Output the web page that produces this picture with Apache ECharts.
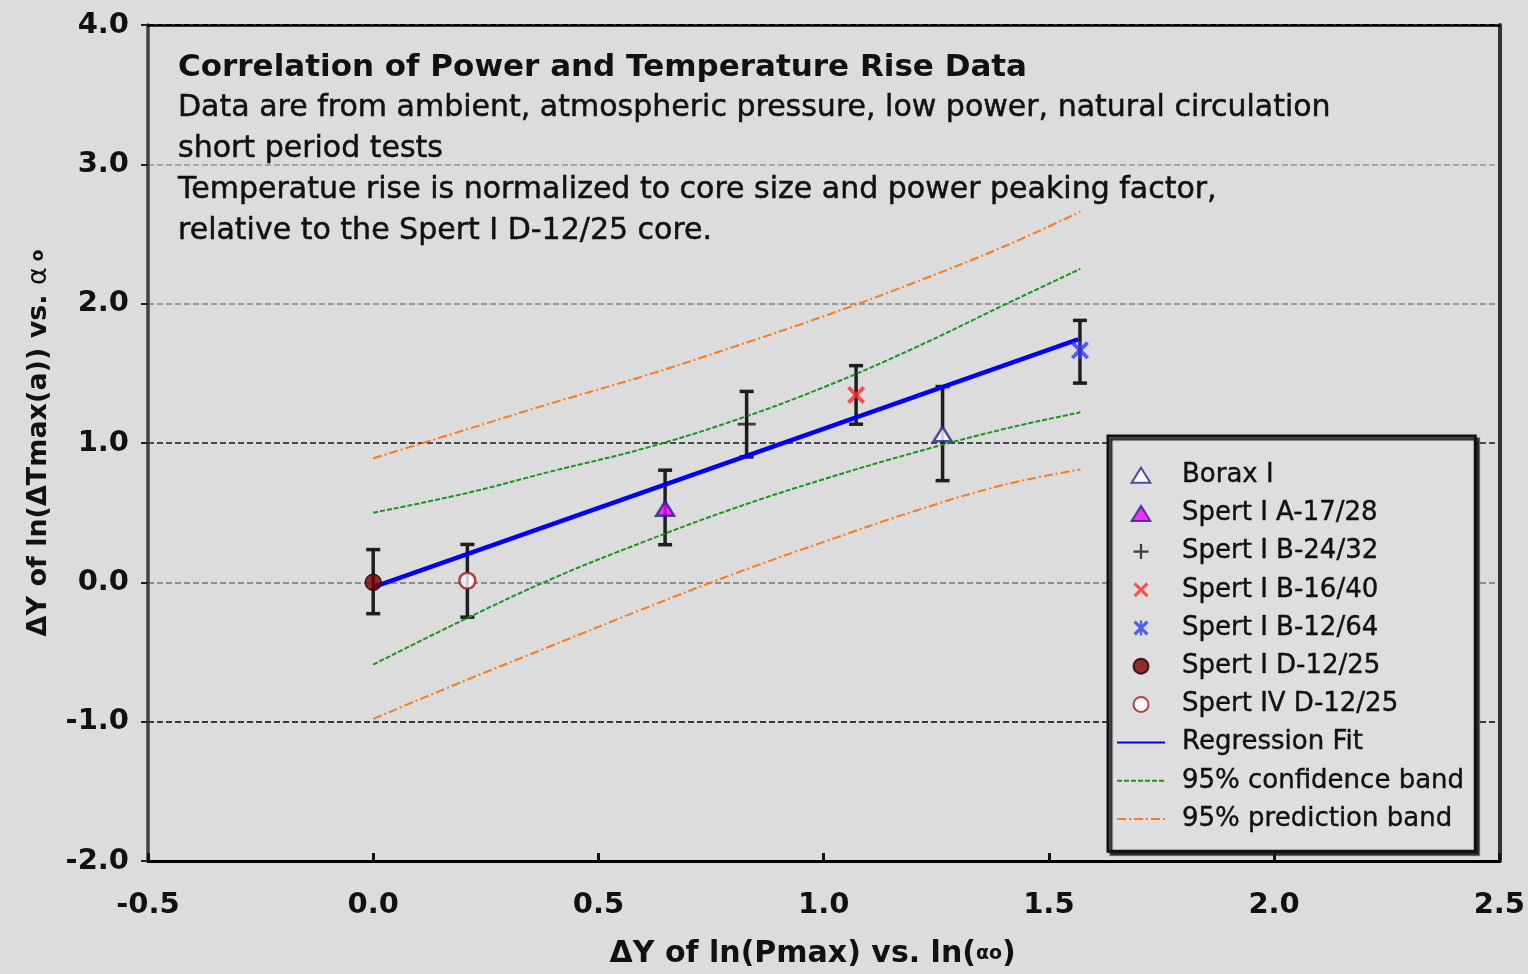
<!DOCTYPE html>
<html>
<head>
<meta charset="utf-8">
<script src="https://cdn.jsdelivr.net/npm/echarts@6/dist/echarts.min.js"></script>
<style>
  html, body { margin: 0; padding: 0; background: #dcdcdc; }
  #chart { width: 1528px; height: 974px; }
</style>
</head>
<body>
<div id="chart"></div>
<script>
// ---- data ----
const pointNames = ['Borax I', 'Spert I A-17/28', 'Spert I B-24/32', 'Spert I B-16/40',
                    'Spert I B-12/64', 'Spert I D-12/25', 'Spert IV D-12/25'];
const pointX    = [1.264, 0.648, 0.829, 1.072, 1.569, 0.000, 0.209];
const pointY    = [1.064, 0.530, 1.135, 1.345, 1.665, 0.000, 0.012];
const errLow    = [0.730, 0.270, 0.900, 1.135, 1.430, -0.225, -0.250];
const errHigh   = [1.405, 0.805, 1.370, 1.555, 1.880, 0.235, 0.272];

const fitX = [0.0, 1.565];
const fitY = [-0.035, 1.743];

const bandX     = [0.0, 0.2, 0.4, 0.6, 0.8, 1.0, 1.2, 1.4, 1.57];
const confUpper = [0.50, 0.635, 0.80, 0.96, 1.16, 1.40, 1.68, 1.99, 2.25];
const confLower = [-0.59, -0.27, 0.03, 0.29, 0.53, 0.74, 0.93, 1.10, 1.22];
const predUpper = [0.89, 1.09, 1.29, 1.48, 1.69, 1.91, 2.15, 2.41, 2.66];
const predLower = [-0.98, -0.71, -0.45, -0.19, 0.06, 0.29, 0.51, 0.70, 0.81];

const xLimits = [-0.5, 2.5];
const yLimits = [-2.0, 4.0];
const xStep = 0.5;
const yStep = 1.0;

const titleLines = [
  'Correlation of Power and Temperature Rise Data',
  'Data are from ambient, atmospheric pressure, low power, natural circulation',
  'short period tests',
  'Temperatue rise is normalized to core size and power peaking factor,',
  'relative to the Spert I D-12/25 core.'
];

// ---- styling ----
const FONT = "'DejaVu Sans', sans-serif";
const INK = '#111';
const CONF_NAME = '95% confidence band';
const PRED_NAME = '95% prediction band';
const FIT_NAME = 'Regression Fit';

const TRI_PATH = 'path://M10,0 L20,16 L0,16 Z';
const X_PATH = 'path://M0,3 L3,0 L10,7 L17,0 L20,3 L13,10 L20,17 L17,20 L10,13 L3,20 L0,17 L7,10 Z';
const PLUS_PATH = 'path://M8.5,0 h3 v20 h-3 Z M0,8.5 h20 v3 h-20 Z';
const STAR_PATH = 'path://M0,3 L3,0 L10,7 L17,0 L20,3 L13,10 L20,17 L17,20 L10,13 L3,20 L0,17 L7,10 Z M8.5,0 h3 v20 h-3 Z';

const markerStyles = [
  { symbol: TRI_PATH,  symbolSize: 18, itemStyle: { color: '#ffffff', borderColor: '#24248c', borderWidth: 2.5 } },
  { symbol: TRI_PATH,  symbolSize: 18, itemStyle: { color: '#ff00ff', borderColor: '#24248c', borderWidth: 2.5 } },
  { symbol: PLUS_PATH, symbolSize: 18, itemStyle: { color: '#141414' } },
  { symbol: X_PATH,    symbolSize: 18, itemStyle: { color: '#ff2a2a' } },
  { symbol: STAR_PATH, symbolSize: 18, itemStyle: { color: '#2a3cff' } },
  { symbol: 'circle',  symbolSize: 16, itemStyle: { color: '#7a0000', borderColor: '#1a0000', borderWidth: 1.5 } },
  { symbol: 'circle',  symbolSize: 16, itemStyle: { color: '#ffffff', borderColor: '#a01818', borderWidth: 2.5 } }
];

const zip = (xs, ys) => xs.map((x, i) => [x, ys[i]]);

const series = [];

// error bars: vertical whisker with caps at each measured point
series.push({
  type: 'custom',
  name: 'error bars',
  z: 2,
  data: pointX.map((x, i) => [x, errLow[i], errHigh[i]]),
  encode: { x: 0, y: [1, 2] },
  renderItem: function (params, api) {
    const x = api.value(0);
    const lo = api.coord([x, api.value(1)]);
    const hi = api.coord([x, api.value(2)]);
    const cap = 7;
    const style = { stroke: '#1e1e1e', lineWidth: 3.5 };
    return {
      type: 'group',
      children: [
        { type: 'line', shape: { x1: lo[0], y1: lo[1], x2: hi[0], y2: hi[1] }, style: style },
        { type: 'line', shape: { x1: hi[0] - cap, y1: hi[1], x2: hi[0] + cap, y2: hi[1] }, style: style },
        { type: 'line', shape: { x1: lo[0] - cap, y1: lo[1], x2: lo[0] + cap, y2: lo[1] }, style: style }
      ]
    };
  }
});

const bandLine = (name, ys, color, dash) => ({
  type: 'line', name: name, z: 3,
  data: zip(bandX, ys),
  smooth: 0.4, showSymbol: false, symbol: 'none',
  itemStyle: { color: color },
  lineStyle: { color: color, width: 2, type: dash }
});
series.push(bandLine(PRED_NAME, predUpper, '#ff7a1a', [9, 3, 2, 3]));
series.push(bandLine(PRED_NAME, predLower, '#ff7a1a', [9, 3, 2, 3]));
series.push(bandLine(CONF_NAME, confUpper, '#1a961a', [5, 2]));
series.push(bandLine(CONF_NAME, confLower, '#1a961a', [5, 2]));

series.push({
  type: 'line', name: FIT_NAME, z: 4,
  data: zip(fitX, fitY),
  showSymbol: false, symbol: 'none',
  itemStyle: { color: '#0000ff' },
  lineStyle: { color: '#0000ff', width: 4.5 }
});

pointNames.forEach((name, i) => {
  series.push(Object.assign({
    type: 'scatter', name: name, z: 5, symbolKeepAspect: true,
    data: [[pointX[i], pointY[i]]]
  }, markerStyles[i]));
});

const tickFmt = v => v.toFixed(1);

// legend entries for the line series carry no marker glyph
const hiddenGlyph = { color: 'rgba(0,0,0,0)', borderWidth: 0, opacity: 0 };
const legendData = pointNames.map(n => ({ name: n }))
  .concat([FIT_NAME, CONF_NAME, PRED_NAME].map(n => ({ name: n, itemStyle: hiddenGlyph })));

const option = {
  backgroundColor: '#dcdcdc',
  animation: false,
  textStyle: { fontFamily: FONT },
  title: {
    left: 178, top: 47, padding: 0,
    text: titleLines.map((t, i) => (i === 0 ? '{h|' : '{b|') + t + '}').join('\n'),
    textStyle: {
      rich: {
        h: { fontFamily: FONT, fontWeight: 'bold', fontSize: 31, lineHeight: 41, color: INK },
        b: { fontFamily: FONT, fontWeight: 'normal', fontSize: 30, lineHeight: 41, color: INK,
             textBorderColor: INK, textBorderWidth: 0.5 }
      }
    }
  },
  grid: { left: 148, right: 28, top: 25, bottom: 102, containLabel: false },
  legend: {
    orient: 'vertical',
    left: 1108, top: 436,
    data: legendData,
    symbolKeepAspect: true,
    itemWidth: 48, itemHeight: 15, itemGap: 11.8,
    padding: [26, 11, 19, 8],
    backgroundColor: '#dedede',
    borderColor: INK, borderWidth: 3,
    shadowColor: 'rgba(30,30,30,0.9)', shadowOffsetX: 3, shadowOffsetY: 3, shadowBlur: 1,
    textStyle: { fontFamily: FONT, fontSize: 26, lineHeight: 26, color: INK, padding: [0, 0, 0, 12],
                 textBorderColor: INK, textBorderWidth: 0.4 }
  },
  xAxis: [{
    type: 'value', min: xLimits[0], max: xLimits[1], interval: xStep,
    name: '{m|ΔY of ln(Pmax) vs. ln(}{s|αo}{m|)}',
    nameLocation: 'middle', nameGap: 78,
    nameTextStyle: {
      padding: [0, 22, 0, 0],
      rich: {
        m: { fontFamily: FONT, fontWeight: 'bold', fontSize: 30, color: INK },
        s: { fontFamily: FONT, fontWeight: 'bold', fontSize: 19, color: INK }
      }
    },
    axisLine: { show: true, onZero: false, lineStyle: { color: '#000', width: 3 } },
    axisTick: { show: true, inside: true, length: 8, lineStyle: { color: INK, width: 3 } },
    axisLabel: { formatter: tickFmt, margin: 30, fontFamily: FONT, fontWeight: 'bold', fontSize: 29, color: INK },
    splitLine: { show: false }
  }, {
    type: 'value', position: 'top', min: xLimits[0], max: xLimits[1], interval: xStep,
    axisLine: { show: true, onZero: false, lineStyle: { color: '#000', width: 2.5 } },
    axisTick: { show: false }, axisLabel: { show: false }, splitLine: { show: false }
  }],
  yAxis: [{
    type: 'value', min: yLimits[0], max: yLimits[1], interval: yStep,
    name: '{m|ΔY of ln(ΔTmax(a)) vs. }{a|α}{s| o}',
    nameLocation: 'middle', nameGap: 96,
    nameTextStyle: {
      rich: {
        m: { fontFamily: FONT, fontWeight: 'bold', fontSize: 27, color: INK },
        a: { fontFamily: FONT, fontWeight: 'normal', fontSize: 27, color: INK },
        s: { fontFamily: FONT, fontWeight: 'bold', fontSize: 17, color: INK }
      }
    },
    axisLine: { show: true, onZero: false, lineStyle: { color: '#404040', width: 3.5 } },
    axisTick: { show: true, inside: false, length: 7, lineStyle: { color: '#222', width: 2 } },
    axisLabel: { formatter: tickFmt, margin: 19, fontFamily: FONT, fontWeight: 'bold', fontSize: 29, color: INK },
    splitLine: {
      show: true,
      lineStyle: {
        color: ['#000', '#3a3a3a', '#8c8c8c', '#4a4a4a', '#9a9a9a', '#a6a6a6', '#000'],
        width: 2, type: [6, 3]
      }
    }
  }, {
    type: 'value', position: 'right', min: yLimits[0], max: yLimits[1], interval: yStep,
    axisLine: { show: true, onZero: false, lineStyle: { color: '#333', width: 4 } },
    axisTick: { show: false }, axisLabel: { show: false }, splitLine: { show: false }
  }],
  series: series
};

const chart = echarts.init(document.getElementById('chart'));
chart.setOption(option);
</script>
</body>
</html>
